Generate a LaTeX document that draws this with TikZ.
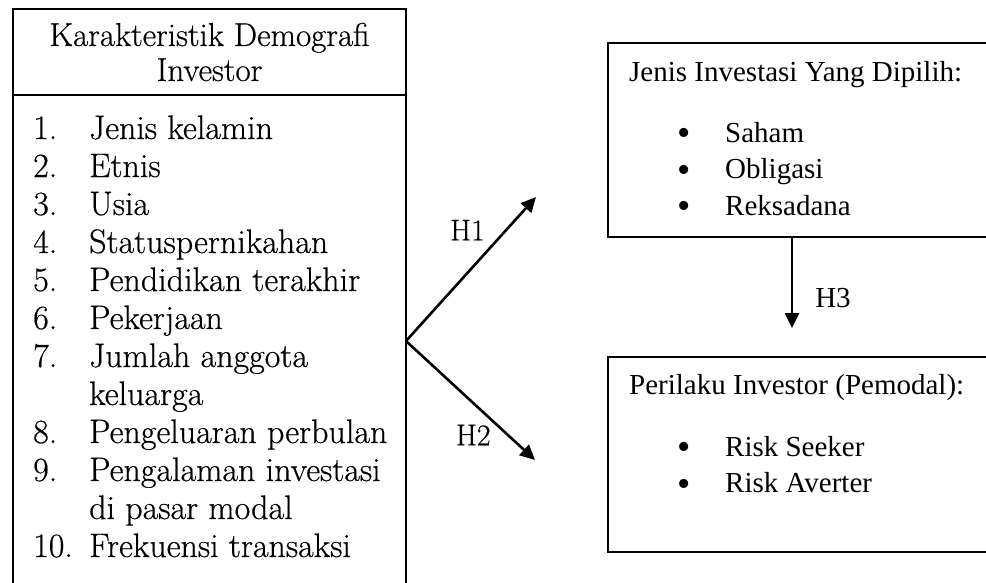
\documentclass[tikz,border=0pt]{standalone}
\usepackage{fontspec}
\newfontfamily\timesfont{Liberation Serif}
\newfontfamily\lmfont{Latin Modern Roman}[FakeBold=0.5]
\usetikzlibrary{positioning,arrows.meta}
\newcommand{\bigdot}{\raisebox{-3.5pt}{\fontsize{38}{36.5}\selectfont\textbullet}}

\begin{document}
\begin{tikzpicture}[
  x=1pt, y=-1pt,
  >={Triangle[length=15pt, width=14pt]},
  box/.style={draw=black, line width=2.2pt, inner sep=0pt, outer sep=0pt, fill=white},
  lmtext/.style={font=\lmfont\fontsize{34}{38}\selectfont, inner sep=0pt},
  tmtext/.style={font=\timesfont\fontsize{29}{36.5}\selectfont, inner sep=0pt},
  flow/.style={->, line width=2.6pt, draw=black},
  lbl/.style={font=\lmfont\fontsize{30}{34}\selectfont, inner sep=0pt},
]
\useasboundingbox (0,0) rectangle (986,582);
\clip (0,0) rectangle (986,582);

% ---- demographic characteristics (left) ----
\node[box, lmtext, font=\lmfont\fontsize{33}{35}\selectfont, minimum width=393pt,
      minimum height=86pt, align=center] (hdr)
  at (209.5,52) {Karakteristik Demografi\\Investor};
\node[box, anchor=north, minimum width=393pt, minimum height=520pt] (lst)
  at (hdr.south) {};
\node[lmtext, anchor=base west] (items) at (33,139)
  {\begin{tabular}[t]{@{}p{56pt}@{}l@{}}
   1. & Jenis kelamin\\
   2. & Etnis\\
   3. & Usia\\
   4. & Statuspernikahan\\
   5. & Pendidikan terakhir\\
   6. & Pekerjaan\\
   7. & Jumlah anggota\\
      & keluarga\\
   8. & Pengeluaran perbulan\\
   9. & Pengalaman investasi\\
      & di pasar modal\\
   10. & Frekuensi transaksi
   \end{tabular}};

% ---- chosen investment type (top right) ----
\node[box, anchor=north west, minimum width=420pt, minimum height=194pt] (jenis)
  at (608,43) {};
\node[tmtext, anchor=base west] (jtitle) at (629,81) {Jenis Investasi Yang Dipilih:};
\node[tmtext, anchor=base west] (jlist) at (677,142)
  {\begin{tabular}[t]{@{}p{48pt}@{}l@{}}
   \bigdot & Saham\\
   \bigdot & Obligasi\\
   \bigdot & Reksadana
   \end{tabular}};

% ---- investor behaviour (bottom right) ----
\node[box, anchor=north west, minimum width=420pt, minimum height=195pt] (perilaku)
  at (608,357) {};
\node[tmtext, anchor=base west] (ptitle) at (629,394) {Perilaku Investor (Pemodal):};
\node[tmtext, anchor=base west] (plist) at (677,456)
  {\begin{tabular}[t]{@{}p{48pt}@{}l@{}}
   \bigdot & Risk Seeker\\
   \bigdot & Risk Averter
   \end{tabular}};

% ---- hypotheses ----
\coordinate (j) at (lst.east |- 0,341);
\coordinate (h1end) at (536,197);
\coordinate (h2end) at (535,460);
\coordinate (h3end) at (792,328);

\draw[flow] (j) -- node[lbl, pos=0.77, left=20pt] {H1} (h1end);
\draw[flow] (j) -- node[lbl, pos=0.79, left=16pt] {H2} (h2end);
\draw[flow] (jenis.south west -| 792,0) -- node[lbl, font=\timesfont\fontsize{29}{34}\selectfont, pos=0.67, right=22pt] {H3} (h3end);

\end{tikzpicture}
\end{document}
